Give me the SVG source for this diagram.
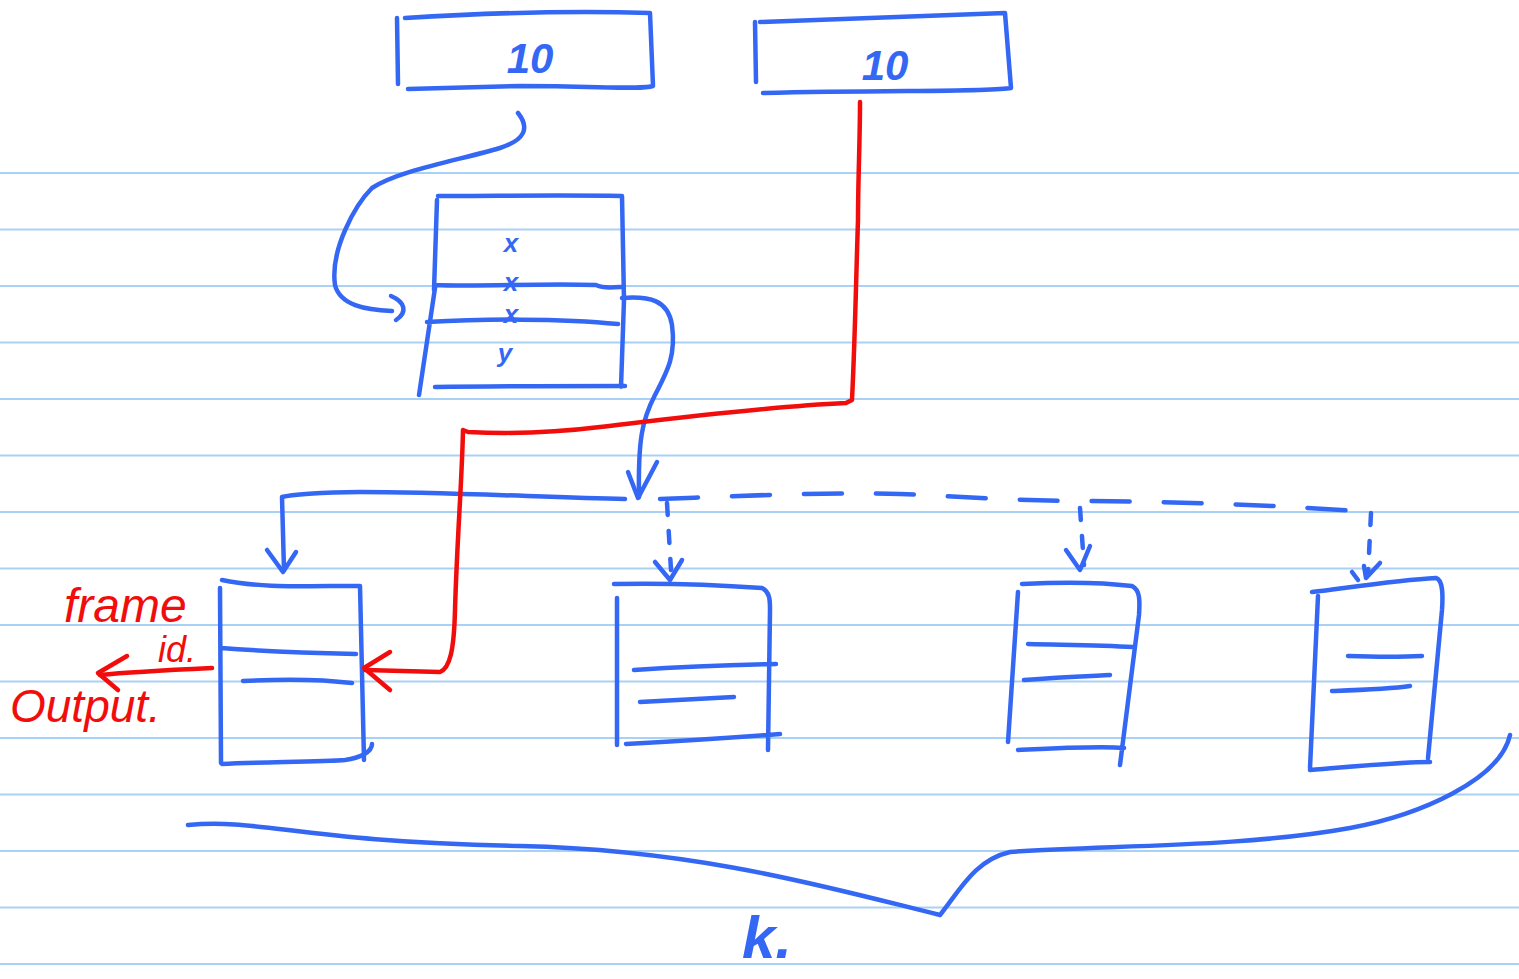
<svg xmlns="http://www.w3.org/2000/svg" width="1519" height="979" viewBox="0 0 1519 979">
<style>
.rule{stroke:#a9d1f6;stroke-width:2;fill:none}
.b{stroke:#3468f4;stroke-width:4.5;fill:none;stroke-linecap:round;stroke-linejoin:round}
.r{stroke:#f20d0d;stroke-width:4.5;fill:none;stroke-linecap:round;stroke-linejoin:round}
.d{stroke-dasharray:38 34}
.dd{stroke-dasharray:12 16}
.tb{fill:#3468f4;font-family:"Liberation Sans",sans-serif;font-style:italic;font-weight:bold}
.tr{fill:#f20d0d;font-family:"Liberation Sans",sans-serif;font-style:italic}
</style>
<rect width="1519" height="979" fill="#ffffff"/>
<g id="ruling">
<path class="rule" d="M0,173H1519M0,229.5H1519M0,286H1519M0,342.5H1519M0,399H1519M0,455.5H1519M0,512H1519M0,568.5H1519M0,625H1519M0,681.5H1519M0,738H1519M0,794.5H1519M0,851H1519M0,907.5H1519M0,964H1519"/>
</g>
<g id="node-top-left">
<path class="b" d="M397,18 L398,84 M405,18 C470,14 560,10 650,13 L653,86 C640,90 600,86 520,86 L408,89"/>
<text class="tb" x="530" y="73" font-size="42" text-anchor="middle">10</text>
</g>
<g id="node-top-right">
<path class="b" d="M755,22 L756,82 M760,22 C850,18 940,15 1005,13 L1011,88 C990,92 900,90 763,93"/>
<text class="tb" x="885" y="80" font-size="42" text-anchor="middle">10</text>
</g>
<g id="node-stack">
<path class="b" d="M437,200 L434,290 M438,196 C500,196 560,195 622,196 L624,300 L621,387 M435,285 C480,287 540,283 596,285 C605,289 612,287 621,287 M427,322 C480,319 560,318 618,324 M435,288 L419,395 M435,387 C500,386 560,386 625,386"/>
<text class="tb" x="511" y="252" font-size="26" text-anchor="middle">x</text>
<text class="tb" x="511" y="291" font-size="26" text-anchor="middle">x</text>
<text class="tb" x="511" y="323" font-size="26" text-anchor="middle">x</text>
<text class="tb" x="505" y="362" font-size="26" text-anchor="middle">y</text>
</g>
<g id="node-frame-1">
<path class="b" d="M220,588 L221,763 M222,580 C260,588 300,586 360,586 L364,760 M221,648 C260,651 310,653 356,654 M243,681 C280,679 320,679 352,683 M222,764 C260,762 320,762 345,760 C360,758 372,752 372,744"/>
</g>
<g id="node-frame-2">
<path class="b" d="M614,584 C660,583 720,585 762,588 C770,592 770,600 770,610 L768,750 M617,598 L617,745 M634,670 C680,667 730,665 776,664 M640,702 C680,700 710,698 734,697 M626,744 C680,741 740,737 780,734"/>
</g>
<g id="node-frame-3">
<path class="b" d="M1022,584 C1060,582 1100,582 1132,586 C1140,590 1140,600 1139,615 L1120,765 M1018,592 L1008,742 M1028,644 C1070,645 1100,645 1133,647 M1024,680 C1060,677 1090,676 1110,675 M1018,750 C1060,748 1100,746 1124,748"/>
</g>
<g id="node-frame-4">
<path class="b" d="M1312,592 C1360,586 1400,580 1436,578 C1443,580 1443,595 1442,610 L1428,758 M1318,596 L1310,768 M1348,656 C1380,657 1400,657 1422,656 M1332,691 C1360,690 1390,689 1410,686 M1310,770 C1360,766 1400,762 1430,762"/>
</g>
<g id="connectors">
<path class="b" d="M518,113 C530,128 525,140 500,148 C460,160 400,170 372,188 C355,205 330,250 335,285 C340,305 365,310 392,311"/>
<path class="b" d="M391,296 C405,302 408,312 396,320"/>
<path class="b" d="M622,298 C650,296 668,300 672,325 C676,355 668,370 655,395 C642,420 638,440 639,497"/>
<path class="b" d="M628,472 L638,498 L657,462"/>
<path class="b" d="M625,499 C540,497 440,492 360,492 C320,492 290,495 282,497 L284,570"/>
<path class="b" d="M267,550 L283,572 L296,552"/>
<path class="b d" d="M660,499 C740,496 820,492 900,494 C950,496 1000,500 1070,501 C1130,501 1250,503 1370,512"/>
<path class="b dd" d="M667,503 L671,570"/>
<path class="b" d="M655,562 L670,580 L682,560"/>
<path class="b dd" d="M1080,508 L1084,565"/>
<path class="b" d="M1066,550 L1080,570 L1090,546"/>
<path class="b dd" d="M1371,513 L1368,575"/>
<path class="b" d="M1352,572 L1358,580 M1364,566 L1366,578 L1380,563"/>
<path class="r" d="M860,102 C860,140 858,180 858,220 C856,280 855,340 852,400 L846,403 C760,407 660,420 600,427 C560,432 510,434 468,432 L463,430 C462,480 457,540 455,610 C454,650 450,668 440,672 L365,670"/>
<path class="r" d="M390,652 L364,668 L390,690"/>
<path class="r" d="M212,668 C170,670 130,672 100,675"/>
<path class="r" d="M127,656 L98,673 L118,690"/>
<path class="b" d="M188,825 C260,818 300,842 520,846 C700,850 830,888 940,915 C960,890 975,860 1010,852 C1100,845 1240,848 1350,828 C1420,815 1500,780 1510,735"/>
</g>
<g id="labels">
<text class="tr" x="64" y="622" font-size="48">frame</text>
<text class="tr" x="158" y="662" font-size="36">id.</text>
<text class="tr" x="10" y="722" font-size="46">Output.</text>
<text class="tb" x="742" y="958" font-size="60" font-weight="normal">k.</text>
</g>
</svg>
